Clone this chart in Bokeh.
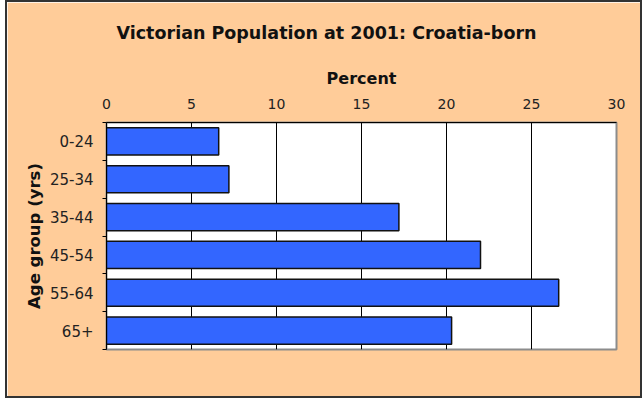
from bokeh.plotting import figure
from bokeh.models import Range1d, FixedTicker, ColumnDataSource, Spacer
from bokeh.layouts import row
from bokeh.embed import file_html
from bokeh.resources import INLINE

title_text = "Victorian Population at 2001: Croatia-born"
age_groups = ["0-24", "25-34", "35-44", "45-54", "55-64", "65+"]
percent = [6.6, 7.2, 17.2, 22.0, 26.6, 20.3]
x_ticks = [0, 5, 10, 15, 20, 25, 30]

n = len(age_groups)
pos = list(range(n))
bounds = [i - 0.5 for i in range(n + 1)]

src = ColumnDataSource(dict(y=pos, right=percent, label=age_groups))

FONT = "DejaVu Sans"
PEACH = "#FFCC99"
W, H = 637, 398

p = figure(width=W, height=H, output_backend="svg", toolbar_location=None,
           x_range=Range1d(0, 30), y_range=Range1d(n - 0.5, -0.5),
           x_axis_location="above", title=title_text,
           min_border_left=99, min_border_right=28, min_border_top=120, min_border_bottom=51)

p.hbar(y="y", right="right", left=0, height=0.72, source=src,
       fill_color="#3366FF", line_color="#111111", line_width=1.5)

p.background_fill_color = "white"
p.border_fill_color = PEACH
p.outline_line_color = "#8c8c8c"
p.outline_line_width = 2

p.title.text_font = FONT
p.title.text_font_size = "17.5px"
p.title.text_font_style = "bold"
p.title.text_color = "#111111"
p.title.align = "left"
p.title.offset = 10
p.title.vertical_align = "top"
p.title.standoff = 41

xa = p.xaxis[0]
xa.ticker = FixedTicker(ticks=x_ticks)
xa.axis_label = "Percent"
xa.axis_label_text_font = FONT
xa.axis_label_text_font_size = "16px"
xa.axis_label_text_font_style = "bold"
xa.axis_label_text_color = "#111111"
xa.axis_label_standoff = 8
xa.major_label_text_font = FONT
xa.major_label_text_font_size = "14px"
xa.major_label_text_color = "#222222"
xa.major_label_standoff = 14
xa.major_tick_out = 0
xa.major_tick_in = 0
xa.minor_tick_out = 0
xa.axis_line_color = "black"

ya = p.yaxis[0]
ya.ticker = FixedTicker(ticks=pos, minor_ticks=bounds)
ya.major_label_overrides = {i: g for i, g in zip(pos, age_groups)}
ya.axis_label = "Age group (yrs)"
ya.axis_label_text_font = FONT
ya.axis_label_text_font_size = "16.5px"
ya.axis_label_text_font_style = "bold"
ya.axis_label_text_color = "#111111"
ya.axis_label_standoff = 3
ya.major_label_text_font = FONT
ya.major_label_text_font_size = "15px"
ya.major_label_text_color = "#222222"
ya.major_label_standoff = 9
ya.major_tick_out = 0
ya.major_tick_in = 0
ya.minor_tick_out = 4
ya.minor_tick_in = 0
ya.minor_tick_line_color = "black"
ya.axis_line_color = "black"

p.xgrid.grid_line_color = "black"
p.xgrid.grid_line_alpha = 1
p.xgrid.grid_line_width = 1
p.ygrid.grid_line_color = None

p.styles = {"border": "2px solid #333333"}

layout = row(Spacer(width=5), p)

with open("out.html", "w") as f:
    f.write(file_html(layout, INLINE))
